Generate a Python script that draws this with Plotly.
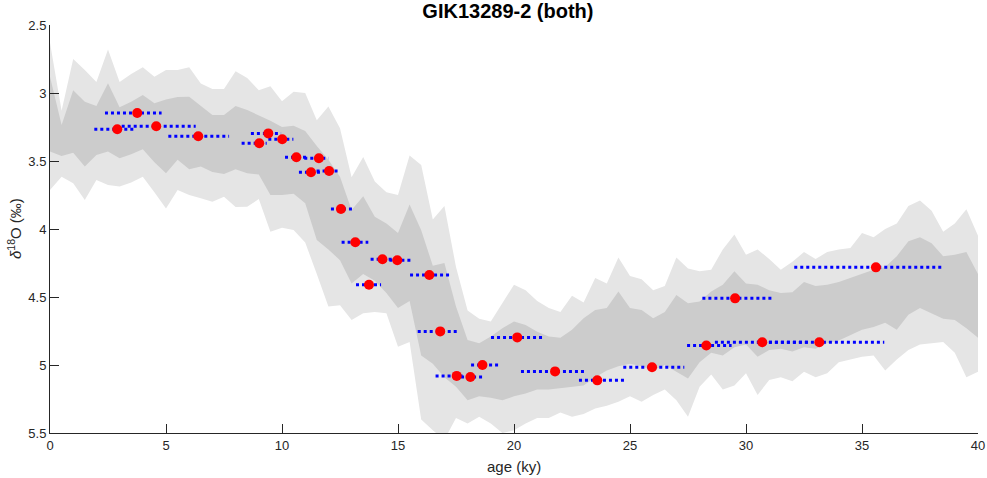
import plotly.graph_objects as go

# ---------------- data ----------------
band_age = [0, 0.5, 1, 1.5, 2, 2.5, 3, 3.5, 4, 4.5, 5, 5.5, 6, 6.5, 7, 7.5, 8, 8.5, 9, 9.5,
            10, 10.5, 11, 11.5, 12, 12.5, 13, 13.5, 14, 14.5, 15, 15.5, 16, 16.5, 17, 17.5, 18, 18.5, 19, 19.5,
            20, 20.5, 21, 21.5, 22, 22.5, 23, 23.5, 24, 24.5, 25, 25.5, 26, 26.5, 27, 27.5, 28, 28.5, 29, 29.5,
            30, 30.5, 31, 31.5, 32, 32.5, 33, 33.5, 34, 34.5, 35, 35.5, 36, 36.5, 37, 37.5, 38, 38.5, 39, 39.5, 40]

outer_top = [2.63, 3.13, 2.75, 2.83, 2.92, 2.68, 2.92, 2.86, 2.81, 2.88, 2.83, 2.83, 2.81, 2.93, 2.97, 2.97, 2.84, 2.89, 2.98, 2.95,
             3.06, 2.99, 3.00, 3.20, 3.10, 3.26, 3.62, 3.47, 3.65, 3.73, 3.75, 3.46, 3.53, 3.93, 3.83, 4.28, 4.60, 4.66, 4.68, 4.55,
             4.41, 4.45, 4.53, 4.58, 4.61, 4.49, 4.54, 4.36, 4.40, 4.21, 4.345, 4.37, 4.45, 4.42, 4.21, 4.29, 4.31, 4.30, 4.15, 4.04,
             4.19, 4.15, 4.22, 4.30, 4.24, 4.17, 4.22, 4.17, 4.15, 4.14, 4.03, 4.06, 4.00, 3.96, 3.83, 3.79, 3.865, 4.02, 3.96, 3.855, 4.05]

inner_top = [2.88, 3.235, 2.98, 3.064, 3.096, 2.929, 3.105, 3.064, 3.015, 3.076, 3.047, 3.03, 3.027, 3.096, 3.162, 3.162, 3.096, 3.125, 3.162, 3.204,
             3.25, 3.24, 3.28, 3.39, 3.49, 3.615, 3.86, 3.76, 3.91, 3.96, 4.03, 3.82, 4.01, 4.27, 4.25, 4.57, 4.816, 4.84, 4.79, 4.73,
             4.68, 4.706, 4.755, 4.79, 4.80, 4.74, 4.657, 4.596, 4.58, 4.46, 4.58, 4.596, 4.657, 4.61, 4.485, 4.546, 4.534, 4.46, 4.41, 4.31,
             4.40, 4.41, 4.45, 4.47, 4.465, 4.39, 4.42, 4.41, 4.39, 4.36, 4.33, 4.30, 4.28, 4.20, 4.09, 4.06, 4.105, 4.20, 4.19, 4.17, 4.33]

inner_bottom = [3.43, 3.463, 3.44, 3.54, 3.456, 3.43, 3.48, 3.45, 3.414, 3.51, 3.59, 3.49, 3.56, 3.54, 3.58, 3.596, 3.56, 3.59, 3.60, 3.75,
                3.75, 3.74, 3.81, 4.08, 4.15, 4.23, 4.40, 4.33, 4.38, 4.47, 4.58, 4.53, 4.93, 4.99, 5.09, 5.16, 5.26, 5.23, 5.24, 5.26,
                5.23, 5.21, 5.18, 5.18, 5.17, 5.16, 5.15, 5.09, 5.04, 5.01, 4.99, 5.01, 5.04, 5.00, 5.05, 5.10, 4.98, 4.91, 4.93, 4.87,
                4.85, 4.94, 4.89, 4.88, 4.90, 4.87, 4.88, 4.84, 4.82, 4.78, 4.74, 4.72, 4.69, 4.74, 4.63, 4.58, 4.62, 4.66, 4.67, 4.73, 4.80]

outer_bottom = [3.713, 3.615, 3.664, 3.787, 3.64, 3.676, 3.687, 3.658, 3.615, 3.73, 3.85, 3.713, 3.75, 3.774, 3.80, 3.762, 3.838, 3.836, 3.78, 4.02,
                3.99, 4.007, 4.10, 4.33, 4.57, 4.56, 4.67, 4.62, 4.61, 4.62, 4.865, 4.83, 5.40, 5.48, 5.55, 5.39, 5.43, 5.38, 5.43, 5.50,
                5.48, 5.43, 5.39, 5.39, 5.35, 5.38, 5.36, 5.32, 5.30, 5.27, 5.23, 5.27, 5.22, 5.18, 5.26, 5.38, 5.16, 5.07, 5.18, 5.15,
                5.06, 5.22, 5.11, 5.09, 5.12, 5.05, 5.09, 5.06, 4.98, 4.96, 4.94, 4.93, 5.04, 4.96, 4.89, 4.85, 4.84, 4.83, 4.91, 5.09, 5.05]

dot_age = [3.76, 2.90, 4.58, 6.39, 9.41, 9.02, 10.01, 10.62, 11.59, 11.25, 12.03, 12.54, 13.16, 14.33, 14.97,
           13.75, 16.35, 16.82, 20.14, 18.64, 17.53, 18.12, 21.77, 23.59, 25.95, 29.53, 35.6, 28.29, 30.7, 33.16]
dot_d18o = [3.147, 3.267, 3.245, 3.318, 3.297, 3.37, 3.34, 3.473, 3.48, 3.583, 3.574, 3.853, 4.098, 4.223, 4.23,
            4.41, 4.338, 4.753, 4.797, 5.0, 5.08, 5.088, 5.047, 5.113, 5.017, 4.51, 4.282, 4.856, 4.833, 4.833]
age_low = [2.37, 1.91, 3.09, 5.10, 8.66, 8.26, 9.41, 10.13, 10.96, 10.73, 11.49, 12.11, 12.57, 13.82, 14.37,
           13.19, 15.52, 15.85, 19.01, 18.15, 16.62, 17.46, 20.3, 22.8, 24.71, 28.12, 32.08, 27.46, 28.66, 30.47]
age_high = [4.81, 3.66, 6.28, 7.72, 9.96, 9.34, 10.49, 11.13, 12.0, 11.71, 12.43, 13.03, 13.72, 14.94, 15.56,
            14.27, 17.24, 17.6, 21.31, 19.35, 17.89, 18.72, 23.13, 24.75, 27.34, 31.22, 38.48, 29.38, 32.74, 35.96]

x_ticks = [0, 5, 10, 15, 20, 25, 30, 35, 40]
y_ticks = [2.5, 3, 3.5, 4, 4.5, 5, 5.5]

# ---------------- figure ----------------
fig = go.Figure()

def band(upper, lower, color):
    xs = list(band_age) + list(reversed(band_age))
    ys = list(upper) + list(reversed(lower))
    return go.Scatter(x=xs, y=ys, mode="lines", fill="toself", fillcolor=color,
                      line=dict(width=0, color=color), hoverinfo="skip", showlegend=False)

fig.add_trace(band(outer_top, outer_bottom, "rgb(229,229,229)"))
fig.add_trace(band(inner_top, inner_bottom, "rgb(204,204,204)"))

# each horizontal age-uncertainty bar is its own trace so the dot pattern starts at its left end
for lo, hi, d in zip(age_low, age_high, dot_d18o):
    fig.add_trace(go.Scatter(x=[lo, hi], y=[d, d], mode="lines",
                             line=dict(color="rgb(0,0,255)", width=3, dash="3px,3px"),
                             hoverinfo="skip", showlegend=False))

fig.add_trace(go.Scatter(x=dot_age, y=dot_d18o, mode="markers",
                         marker=dict(color="rgb(255,0,0)", size=10, line=dict(width=0)),
                         showlegend=False))

axis_common = dict(showgrid=False, zeroline=False, showline=True, linecolor="#262626", linewidth=1,
                   ticks="inside", ticklen=9, tickwidth=1, tickcolor="#262626", mirror=False,
                   automargin=False,
                   tickfont=dict(family="Liberation Sans, Arial", size=13, color="#262626"))

fig.update_layout(
    width=987, height=478,
    margin=dict(l=50, r=9, t=25, b=45, autoexpand=False),
    paper_bgcolor="white", plot_bgcolor="white",
    xaxis=dict(range=[0, 40], tickvals=x_ticks, ticktext=[str(v) for v in x_ticks], **axis_common),
    yaxis=dict(range=[5.5, 2.5], tickvals=y_ticks, ticktext=[("%g" % v) for v in y_ticks], **axis_common),
    title=dict(text="<b>GIK13289-2 (both)</b>", x=0.5146, xanchor="center", y=1 - 11 / 478, yanchor="middle",
               yref="container", font=dict(family="Liberation Sans, Arial", size=20, color="black")),
    annotations=[
        dict(text="age (ky)", xref="paper", yref="paper", x=0.5, y=(433 - 467) / 408,
             xanchor="center", yanchor="middle", showarrow=False,
             font=dict(family="Liberation Sans, Arial", size=15, color="#262626")),
        dict(text="<i>δ</i><sup>18</sup>O (‰)", xref="paper", yref="paper", x=(14 - 50) / 928, y=0.5,
             xanchor="center", yanchor="middle", textangle=-90, showarrow=False,
             font=dict(family="Liberation Sans, Arial", size=15, color="#262626")),
    ],
)

fig.write_html("out.html", config={"displayModeBar": False})
